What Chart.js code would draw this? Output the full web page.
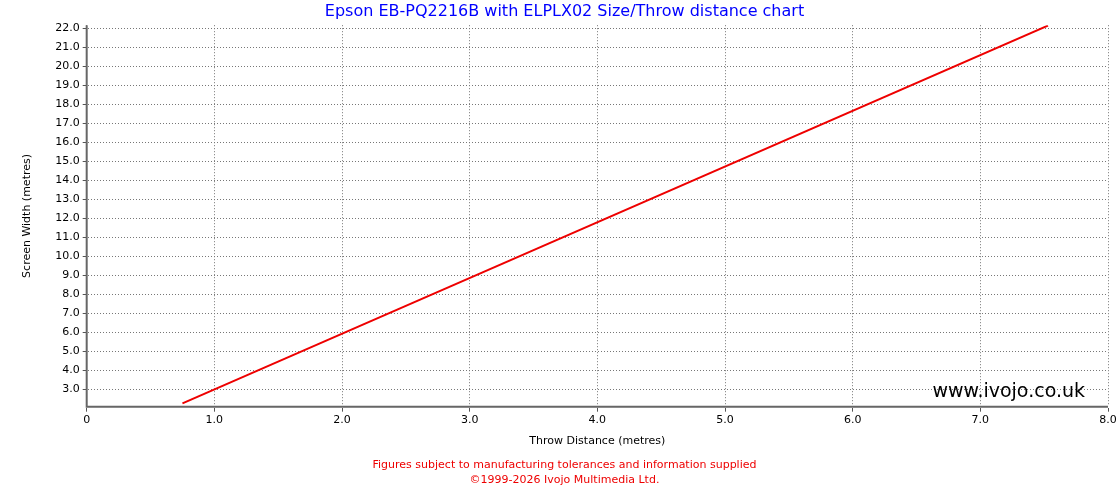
<!DOCTYPE html>
<html>
<head>
<meta charset="utf-8">
<script src="https://cdn.jsdelivr.net/npm/chart.js@4/dist/chart.umd.min.js"></script>
<style>
  body { margin: 0; background: #fff; }
  #wrap { width: 1120px; height: 500px; }
</style>
</head>
<body>
<div id="wrap"><canvas id="throw"></canvas></div>
<script>
// throw distance (m) vs screen width (m)
const throwDistance = [0.75, 7.53];
const screenWidth = [2.27, 22.13];
const xTicks = [0, 1, 2, 3, 4, 5, 6, 7, 8];
const yTicks = [3, 4, 5, 6, 7, 8, 9, 10, 11, 12, 13, 14, 15, 16, 17, 18, 19, 20, 21, 22];

const points = throwDistance.map((d, i) => ({ x: d, y: screenWidth[i] }));

// watermark + solid axis lines
const extras = {
  id: 'extras',
  afterDraw(chart) {
    const ctx = chart.ctx, a = chart.chartArea;
    ctx.save();
    ctx.strokeStyle = '#666';
    ctx.lineWidth = 2;
    ctx.beginPath();
    ctx.moveTo(a.left, a.top);
    ctx.lineTo(a.left, a.bottom);
    ctx.lineTo(a.right, a.bottom);
    ctx.stroke();
    ctx.font = '19px "DejaVu Sans"';
    ctx.fillStyle = '#000';
    ctx.textAlign = 'right';
    ctx.textBaseline = 'middle';
    ctx.fillText('www.ivojo.co.uk', a.right - 23, a.bottom - 15);
    ctx.restore();
  }
};

Chart.defaults.font.family = '"DejaVu Sans", Verdana, sans-serif';
Chart.defaults.font.size = 11;
Chart.defaults.color = '#000';

new Chart(document.getElementById('throw'), {
  type: 'scatter',
  data: {
    datasets: [{
      data: points,
      showLine: true,
      borderColor: '#ee0000',
      borderWidth: 2,
      pointRadius: 0
    }]
  },
  options: {
    responsive: true,
    maintainAspectRatio: false,
    animation: false,
    layout: { padding: { left: 21, right: 12, top: 0, bottom: 12 } },
    plugins: {
      legend: { display: false },
      tooltip: { enabled: false },
      title: {
        display: true,
        text: 'Epson EB-PQ2216B with ELPLX02 Size/Throw distance chart',
        color: '#0000ff',
        font: { size: 16, weight: 'normal' },
        padding: { top: 2, bottom: 4 }
      },
      subtitle: {
        display: true,
        position: 'bottom',
        text: ['Figures subject to manufacturing tolerances and information supplied', '©1999-2026 Ivojo Multimedia Ltd.'],
        color: '#ee0000',
        font: { size: 11, lineHeight: 1.36 },
        padding: { top: 10, bottom: 0 }
      }
    },
    scales: {
      x: {
        type: 'linear',
        min: 0,
        max: 8,
        afterBuildTicks: s => { s.ticks = xTicks.map(v => ({ value: v })); },
        ticks: { callback: v => v === 0 ? '0' : v.toFixed(1), maxRotation: 0, padding: 2 },
        grid: { color: '#777', lineWidth: 1, tickLength: 5, tickColor: '#555' },
        border: { display: true, color: 'rgba(0,0,0,0)', width: 2, dash: [1, 2] },
        title: { display: true, text: 'Throw Distance (metres)', padding: { top: 6, bottom: 0 } }
      },
      y: {
        type: 'linear',
        min: 2.1,
        max: 22.15,
        afterBuildTicks: s => { s.ticks = yTicks.map(v => ({ value: v })); },
        ticks: { callback: v => v.toFixed(1), padding: 3 },
        grid: { color: '#777', lineWidth: 1, tickLength: 4, tickColor: '#555' },
        border: { display: true, color: 'rgba(0,0,0,0)', width: 2, dash: [1, 2] },
        title: { display: true, text: 'Screen Width (metres)', padding: { top: 0, bottom: 18 } }
      }
    }
  },
  plugins: [extras]
});
</script>
</body>
</html>
